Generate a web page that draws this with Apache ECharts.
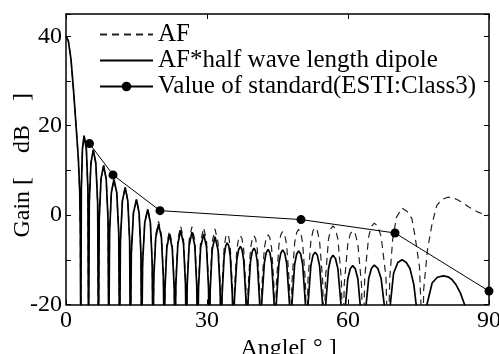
<!DOCTYPE html>
<html>
<head>
<meta charset="utf-8">
<script src="https://cdn.jsdelivr.net/npm/echarts@6/dist/echarts.min.js"></script>
<style>
html,body{margin:0;padding:0;background:#fff;}
#c{width:499px;height:354px;}
</style>
</head>
<body>
<div id="c"></div>
<script>
// AF*half wave length dipole (solid)
const dipAngle = [
 0,0.5,1.07,1.64,2.14,2.63,2.92,3.05,3.15,
 3.26,3.5,3.85,4.33,4.66,4.8,
 4.95,5.3,5.8,6.35,6.74,6.9,
 7.07,7.45,8.0,8.55,8.94,9.1,
 9.27,9.65,10.2,10.8,11.22,11.4,
 11.58,12.0,12.6,13.15,13.54,13.7,
 13.9,14.35,15.0,15.55,15.94,16.1,
 16.3,16.75,17.4,17.95,18.34,18.5,
 18.68,19.1,19.7,20.3,20.72,20.9,
 21.07,21.45,22.0,22.6,23.02,23.2,
 23.38,23.8,24.4,25.0,25.42,25.6,
 25.78,26.2,26.8,27.4,27.82,28.0,
 28.2,28.65,29.3,29.9,30.32,30.5,
 30.68,31.1,31.7,32.35,32.8,33.0,
 33.2,33.65,33.98,34.3,34.63,34.95,35.4,35.6,
 35.83,36.35,36.73,37.1,37.45,37.8,38.29,38.5,
 38.73,39.25,39.63,40.0,40.35,40.7,41.19,41.4,
 41.64,42.2,42.6,43.0,43.38,43.75,44.28,44.5,
 44.74,45.3,45.7,46.1,46.53,46.95,47.55,47.8,
 48.06,48.65,49.08,49.5,49.93,50.35,50.95,51.2,
 51.47,52.1,52.55,53.0,53.48,53.95,54.62,54.9,
 55.19,55.85,56.33,56.8,57.33,57.85,58.59,58.9,
 59.2,59.95,60.48,61.0,61.55,62.1,62.87,63.2,
 63.56,64.4,65.0,65.6,66.33,67.05,68.07,68.5,
 68.8,69.7,70.6,71.5,72.4,73.2,74.0,74.5,75.0,75.9,
 76.8,77.9,79.0,80.3,81.3,82.1,83.0,83.9,84.8,85.8,90
];
const dipGain = [
 40,39.0,34.8,27.4,20,12.6,5.2,-4,-30,
 5.8,14.8,17.8,14.8,5.8,-30,
 2.6,11.6,14.6,11.6,2.6,-30,
 -0.9,8.1,11.1,8.1,-0.9,-30,
 -4,5,8,5,-4,-30,
 -5.8,3.2,6.2,3.2,-5.8,-30,
 -8.5,0.5,3.5,0.5,-8.5,-30,
 -10.7,-1.7,1.3,-1.7,-10.7,-30,
 -14,-5,-2,-5,-14,-30,
 -16.3,-7.3,-4.3,-7.3,-16.3,-30,
 -15.4,-6.4,-3.4,-6.4,-15.4,-30,
 -15.8,-6.8,-3.8,-6.8,-15.8,-30,
 -16.2,-7.2,-4.2,-7.2,-16.2,-30,
 -16.8,-7.8,-4.8,-7.8,-16.8,-30,
 -18.2,-9.2,-6.9,-6.2,-6.9,-9.2,-18.2,-30,
 -19,-10,-7.7,-7.0,-7.7,-10,-19,-30,
 -19.4,-10.4,-8.1,-7.4,-8.1,-10.4,-19.4,-30,
 -19.7,-10.7,-8.4,-7.7,-8.4,-10.7,-19.7,-30,
 -19.8,-10.8,-8.5,-7.8,-8.5,-10.8,-19.8,-30,
 -20,-11,-8.7,-8.0,-8.7,-11,-20,-30,
 -20.3,-11.3,-9.0,-8.3,-9.0,-11.3,-20.3,-30,
 -21,-12,-9.7,-9.0,-9.7,-12,-21,-30,
 -23.3,-14.3,-12.0,-11.3,-12.0,-14.3,-23.3,-30,
 -23.2,-14.2,-11.9,-11.2,-11.9,-14.2,-23.2,-30,
 -22,-13,-10.6,-10,-10.6,-12,-15.5,-20,-26,-30,
 -20,-15.2,-13.9,-13.6,-13.8,-14.4,-15.6,-17.4,-20,-24,-40
];
// AF (dashed)
const afAngle = [
 0,0.5,1.07,1.64,2.14,2.63,2.92,3.05,3.15,
 3.26,3.5,3.85,4.33,4.66,4.8,
 4.95,5.3,5.8,6.35,6.74,6.9,
 7.07,7.45,8.0,8.55,8.94,9.1,
 9.27,9.65,10.2,10.8,11.22,11.4,
 11.58,12.0,12.6,13.15,13.54,13.7,
 13.9,14.35,15.0,15.55,15.94,16.1,
 16.3,16.75,17.4,17.95,18.34,18.5,
 18.68,19.1,19.7,20.3,20.72,20.9,
 21.07,21.45,22.0,22.6,23.02,23.2,
 23.38,23.8,24.4,25.0,25.42,25.6,
 25.78,26.2,26.8,27.4,27.82,28.0,
 28.2,28.65,29.3,29.9,30.32,30.5,
 30.68,31.1,31.7,32.35,32.8,33.0,
 33.2,33.65,33.98,34.3,34.63,34.95,35.4,35.6,
 35.83,36.35,36.73,37.1,37.45,37.8,38.29,38.5,
 38.73,39.25,39.63,40.0,40.35,40.7,41.19,41.4,
 41.64,42.2,42.6,43.0,43.38,43.75,44.28,44.5,
 44.74,45.3,45.7,46.1,46.53,46.95,47.55,47.8,
 48.06,48.65,49.08,49.5,49.93,50.35,50.95,51.2,
 51.47,52.1,52.55,53.0,53.48,53.95,54.62,54.9,
 55.19,55.85,56.33,56.8,57.33,57.85,58.59,58.9,
 59.2,59.95,60.48,61.0,61.55,62.1,62.87,63.2,
 63.56,64.4,65.0,65.6,66.33,67.05,68.07,68.5,
 68.9,69.5,70.3,71.5,72.6,73.6,74.3,75.2,75.9,
 76.1,76.9,77.9,78.9,80.0,81.2,82.2,83.2,84.5,85.7,87.8,90
];
const afGain = [
 40,39.0,34.8,27.4,20,12.6,5.2,-4,-30,
 5.8,14.8,17.8,14.8,5.8,-30,
 2.6,11.6,14.6,11.6,2.6,-30,
 -0.9,8.1,11.1,8.1,-0.9,-30,
 -4,5,8,5,-4,-30,
 -5.8,3.2,6.2,3.2,-5.8,-30,
 -8.5,0.5,3.5,0.5,-8.5,-30,
 -10.7,-1.7,1.3,-1.7,-10.7,-30,
 -13.4,-4.4,-1.4,-4.4,-13.4,-30,
 -15.5,-6.5,-3.5,-6.5,-15.5,-30,
 -14.4,-5.4,-2.4,-5.4,-14.4,-30,
 -14.6,-5.6,-2.6,-5.6,-14.6,-30,
 -14.8,-5.8,-2.8,-5.8,-14.8,-30,
 -15.1,-6.1,-3.1,-6.1,-15.1,-30,
 -16.2,-7.2,-4.9,-4.2,-4.9,-7.2,-16.2,-30,
 -16.6,-7.6,-5.3,-4.6,-5.3,-7.6,-16.6,-30,
 -16.6,-7.6,-5.3,-4.6,-5.3,-7.6,-16.6,-30,
 -16.4,-7.4,-5.1,-4.4,-5.1,-7.4,-16.4,-30,
 -15.7,-6.7,-4.4,-3.7,-4.4,-6.7,-15.7,-30,
 -15.2,-6.2,-3.9,-3.2,-3.9,-6.2,-15.2,-30,
 -14.8,-5.8,-3.5,-2.8,-3.5,-5.8,-14.8,-30,
 -14.4,-5.4,-3.1,-2.4,-3.1,-5.4,-14.4,-30,
 -15.5,-6.5,-4.2,-3.5,-4.2,-6.5,-15.5,-30,
 -13.8,-4.8,-2.5,-1.8,-2.5,-4.8,-13.8,-30,
 -14,-5.5,-0.5,1.6,0.8,-0.8,-5,-11.5,-30,
 -16.7,-7.8,-1.9,2.2,3.5,4.0,3.9,3.5,2.7,1.8,0.6,-0.2
];
// Value of standard (ESTI:Class3)
const stdAngle = [5, 10, 20, 50, 70, 90];
const stdGain = [16, 9, 1, -1, -4, -17];

const xTicks = [0, 30, 60, 90];
const yTickLabels = [-20, 0, 20, 40];

const zip = (a, b) => a.map((v, i) => [v, b[i]]);
const FONT = '"Liberation Serif","DejaVu Serif","Noto Sans CJK JP",serif';

const chart = echarts.init(document.getElementById('c'), null, {renderer: 'canvas'});
const axLine = {show: true, onZero: false, lineStyle: {color: '#000', width: 1.5}};
const tick = {show: true, inside: true, length: 5, lineStyle: {color: '#000', width: 1}};
chart.setOption({
  animation: false,
  backgroundColor: '#fff',
  grid: {left: 66, right: 10, top: 14, bottom: 49.5, containLabel: false, outerBoundsMode: 'none'},
  legend: {
    orient: 'vertical', left: 99, top: 22, padding: 0, itemGap: 1,
    itemWidth: 53, itemHeight: 12,
    textStyle: {fontFamily: FONT, fontSize: 25, color: '#000', lineHeight: 25},
    data: [
      {name: 'AF', itemStyle: {opacity: 0}},
      {name: 'AF*half wave length dipole', itemStyle: {opacity: 0}},
      {name: 'Value of standard(ESTI:Class3)'}
    ]
  },
  xAxis: [{
    type: 'value', min: 0, max: 90, interval: 30, position: 'bottom',
    name: 'Angle[ ° ]', nameLocation: 'middle', nameGap: 32, nameMoveOverlap: false,
    nameTextStyle: {fontFamily: FONT, fontSize: 24, color: '#000', padding: [0, 0, 0, 22]},
    axisLine: axLine, splitLine: {show: false}, axisTick: tick,
    axisLabel: {fontFamily: FONT, fontSize: 24, color: '#000', margin: 4,
      formatter: v => xTicks.includes(v) ? String(v) : ''}
  }, {
    type: 'value', min: 0, max: 90, interval: 30, position: 'top',
    axisLine: axLine, splitLine: {show: false}, axisTick: tick,
    axisLabel: {show: false}
  }],
  yAxis: [{
    type: 'value', min: -20, max: 45, interval: 10, position: 'left',
    name: 'Gain [\u3000dB\u3000]', nameLocation: 'middle', nameGap: 31, nameMoveOverlap: false,
    nameTextStyle: {fontFamily: FONT, fontSize: 24, color: '#000', padding: [0, 12, 0, 0]},
    axisLine: axLine, splitLine: {show: false}, axisTick: tick,
    axisLabel: {fontFamily: FONT, fontSize: 24, color: '#000', margin: 4,
      formatter: v => yTickLabels.includes(v) ? String(v) : ''}
  }, {
    type: 'value', min: -20, max: 45, interval: 10, position: 'right',
    axisLine: axLine, splitLine: {show: false}, axisTick: tick,
    axisLabel: {show: false}
  }],
  series: [{
    name: 'AF', type: 'line', xAxisIndex: 0, yAxisIndex: 0,
    data: zip(afAngle, afGain), showSymbol: false, symbol: 'none', clip: true,
    lineStyle: {color: '#222', width: 1.2, type: [7, 5]}, itemStyle: {color: '#222'}
  }, {
    name: 'AF*half wave length dipole', type: 'line', xAxisIndex: 0, yAxisIndex: 0,
    data: zip(dipAngle, dipGain), showSymbol: false, symbol: 'none', clip: true,
    lineStyle: {color: '#000', width: 1.7}, itemStyle: {color: '#000'}
  }, {
    name: 'Value of standard(ESTI:Class3)', type: 'line', xAxisIndex: 0, yAxisIndex: 0,
    data: zip(stdAngle, stdGain), symbol: 'circle', symbolSize: 9, clip: false,
    lineStyle: {color: '#000', width: 1}, itemStyle: {color: '#000'}
  }]
});
</script>
</body>
</html>
